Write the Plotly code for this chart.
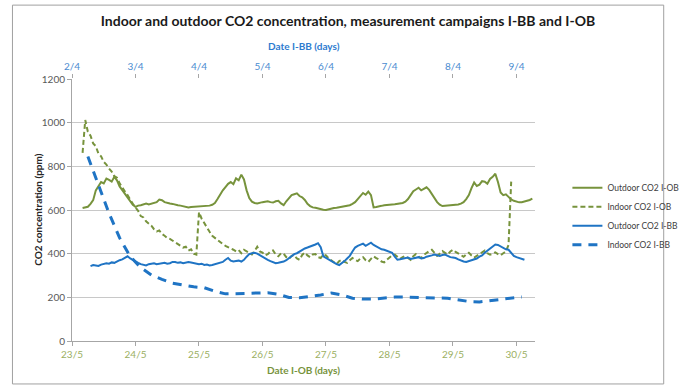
import pandas as pd
import plotly.graph_objects as go

# ---- data (ppm), hourly / 4-hourly readings from each series' first sample ----
ob_campaign_start = "2012-05-23"
bb_campaign_start = "2012-04-02"

# Outdoor CO2, I-OB campaign: hourly from 23/5 04:00
outdoor_ob_start = "2012-05-23 04:00"
outdoor_ob = [
    609, 612, 615, 628, 645, 690, 712, 728, 722, 744,
    738, 730, 752, 736, 708, 690, 672, 655, 640, 624,
    614, 620, 622, 627, 630, 625, 628, 634, 636, 648,
    645, 636, 632, 630, 628, 624, 622, 620, 618, 615,
    612, 614, 615, 614, 616, 615, 617, 618, 620, 624,
    632, 650, 672, 690, 705, 720, 728, 718, 745, 736,
    762, 740, 690, 655, 638, 632, 630, 634, 636, 638,
    640, 636, 634, 640, 642, 630, 622, 640, 656, 668,
    672, 676, 664, 658, 646, 628, 618, 612, 610, 606,
    603, 601, 600, 604, 607, 609, 610, 612, 613, 616,
    618, 622, 628, 636, 650, 666, 678, 670, 684, 668,
    612, 614, 615, 619, 622, 622, 624, 625, 626, 627,
    628, 632, 638, 650, 668, 686, 694, 702, 690, 698,
    704, 692, 674, 652, 636, 624, 618, 619, 620, 621,
    622, 623, 625, 629, 636, 650, 668, 700, 726, 710,
    716, 732, 730, 720, 742, 752, 766, 728, 680, 668,
    672, 660, 648, 642, 638, 635, 636, 639, 642, 646,
    652,
]

# Indoor CO2, I-OB campaign: hourly from 23/5 04:00
indoor_ob_start = "2012-05-23 04:00"
indoor_ob = [
    862, 1012, 958, 940, 905, 892, 858, 846, 820, 808,
    790, 776, 755, 748, 722, 700, 684, 668, 645, 628,
    612, 596, 572, 566, 548, 540, 528, 512, 502, 506,
    490, 482, 472, 468, 460, 452, 446, 438, 428, 432,
    414, 420, 400, 396, 590, 560, 538, 515, 500, 482,
    472, 460, 452, 444, 436, 428, 424, 418, 410, 416,
    402, 418, 410, 400, 396, 412, 432, 410, 405, 392,
    398, 410, 415, 396, 388, 402, 400, 384, 376, 390,
    392, 378, 372, 394, 405, 392, 384, 396, 398, 384,
    380, 396, 392, 378, 370, 360, 352, 366, 372, 362,
    358, 370, 380, 372, 366, 378, 384, 370, 362, 376,
    388, 380, 374, 364, 360, 372, 384, 392, 396, 384,
    376, 384, 390, 380, 372, 388, 398, 386, 380, 394,
    405, 412, 418, 402, 390, 400, 412, 404, 396, 410,
    418, 408, 400, 392, 386, 396, 404, 392, 382, 390,
    398, 408, 414, 402, 395, 400, 406, 398, 392, 402,
    410, 440, 730,
]

# Outdoor CO2, I-BB campaign: hourly from 2/4 07:00
outdoor_bb_start = "2012-04-02 07:00"
outdoor_bb = [
    343, 348, 346, 344, 350, 352, 356, 354, 360, 358,
    366, 370, 374, 382, 388, 378, 370, 366, 358, 352,
    348, 346, 352, 355, 356, 352, 354, 358, 358, 354,
    356, 362, 362, 358, 360, 356, 358, 362, 360, 357,
    356, 352, 354, 348, 350, 346, 348, 352, 356, 360,
    362, 372, 380, 368, 364, 366, 368, 364, 372, 386,
    398, 402, 404, 400, 392, 386, 378, 372, 366, 360,
    356, 358, 360, 364, 370, 380, 392, 398, 402, 410,
    418, 424, 428, 432, 436, 442, 448, 430, 388, 380,
    372, 366, 358, 352, 348, 356, 366, 378, 390, 410,
    428, 436, 442, 446, 436, 444, 450, 440, 432, 426,
    420, 418, 414, 408, 404, 386, 372, 374, 376, 380,
    382, 376, 378, 382, 384, 378, 380, 386, 388, 392,
    396, 392, 390, 394, 396, 390, 384, 382, 380, 374,
    368, 364, 362, 366, 370, 374, 378, 386, 392, 404,
    414, 426, 436, 442, 440, 432, 426, 420, 418, 404,
    390, 384, 380, 376, 372,
]

# Indoor CO2, I-BB campaign: every 4 h from 2/4 06:00
indoor_bb_start = "2012-04-02 06:00"
indoor_bb = [
    845, 710, 585, 472, 387, 336, 302, 282, 265, 256,
    248, 244, 228, 216, 216, 218, 220, 221, 214, 199,
    198, 203, 211, 220, 211, 196, 192, 192, 196, 201,
    201, 199, 196, 197, 196, 188, 181, 179, 185, 193,
    198, 202,
]

y_ticks = [0, 200, 400, 600, 800, 1000, 1200]

GREEN = "#77933C"
BLUE = "#1F74C4"
FONT = "Lato, Noto Sans, sans-serif"


def times(start, n, freq):
    return pd.date_range(start=start, periods=n, freq=freq)


fig = go.Figure()

fig.add_trace(go.Scatter(
    x=times(outdoor_ob_start, len(outdoor_ob), "1h"), y=outdoor_ob,
    name="Outdoor CO2 I-OB", mode="lines", xaxis="x", yaxis="y",
    line=dict(color=GREEN, width=2),
))
fig.add_trace(go.Scatter(
    x=times(indoor_ob_start, len(indoor_ob), "1h"), y=indoor_ob,
    name="Indoor CO2 I-OB", mode="lines", xaxis="x", yaxis="y",
    line=dict(color=GREEN, width=2, dash="5px,3px"),
))
fig.add_trace(go.Scatter(
    x=times(outdoor_bb_start, len(outdoor_bb), "1h"), y=outdoor_bb,
    name="Outdoor CO2 I-BB", mode="lines", xaxis="x2", yaxis="y",
    line=dict(color=BLUE, width=2),
))
fig.add_trace(go.Scatter(
    x=times(indoor_bb_start, len(indoor_bb), "4h"), y=indoor_bb,
    name="Indoor CO2 I-BB", mode="lines", xaxis="x2", yaxis="y",
    line=dict(color=BLUE, width=3, dash="9px,7px"),
))

tick_font = dict(family=FONT, size=10)

fig.update_layout(
    width=696, height=387,
    margin=dict(l=72, r=142, t=79, b=46),
    paper_bgcolor="white", plot_bgcolor="white",
    font=dict(family=FONT, size=10, color="#404040"),
    title=dict(
        text="<b>Indoor and outdoor CO2 concentration, measurement campaigns I-BB and I-OB</b>",
        x=0.5, xanchor="center", y=0.945, yanchor="middle",
        font=dict(family=FONT, size=14, color="#1a1a1a"),
    ),
    xaxis=dict(
        type="date",
        range=["2012-05-23 00:00", "2012-05-30 07:00"],
        dtick=86400000, tick0=ob_campaign_start, tickformat="%-d/%-m",
        showgrid=False, showline=True, linecolor="#A6A6A6", linewidth=1,
        ticks="outside", ticklen=4, tickcolor="#A6A6A6",
        tickfont=dict(tick_font, color="#9BAF5F"),
        zeroline=False,
    ),
    xaxis2=dict(
        type="date", overlaying="x", side="top",
        range=["2012-04-02 00:00", "2012-04-09 07:00"],
        dtick=86400000, tick0=bb_campaign_start, tickformat="%-d/%-m",
        showgrid=False, showline=False,
        ticks="outside", ticklen=4, tickcolor="#A6A6A6",
        tickfont=dict(tick_font, color="#4A8BD0"),
        zeroline=False,
    ),
    yaxis=dict(
        range=[0, 1200], tickvals=y_ticks,
        showgrid=True, gridcolor="#C8C8C8", gridwidth=1,
        showline=True, linecolor="#A6A6A6", linewidth=1,
        ticks="outside", ticklen=4, tickcolor="#A6A6A6",
        tickfont=dict(tick_font, color="#595959"),
        zeroline=False,
    ),
    legend=dict(
        x=1.07, y=0.64, xanchor="left", yanchor="top",
        font=dict(family=FONT, size=8.5, color="#404040"),
        bgcolor="rgba(0,0,0,0)", tracegroupgap=0, itemwidth=30,
        borderwidth=0,
    ),
    showlegend=True,
)

# Axis titles
fig.add_annotation(
    text="<b>Date I-BB (days)</b>", xref="paper", yref="paper",
    x=0.5, y=1.125, xanchor="center", yanchor="middle", showarrow=False,
    font=dict(family=FONT, size=10, color="#2E7BCF"),
)
fig.add_annotation(
    text="<b>Date I-OB (days)</b>", xref="paper", yref="paper",
    x=0.5, y=-0.112, xanchor="center", yanchor="middle", showarrow=False,
    font=dict(family=FONT, size=10, color="#77933C"),
)
fig.add_annotation(
    text="<b>CO2 concentration (ppm)</b>", xref="paper", yref="paper",
    x=-0.074, y=0.5, xanchor="center", yanchor="middle", showarrow=False,
    textangle=-90,
    font=dict(family=FONT, size=10, color="#262626"),
)

# Chart border
fig.add_shape(
    type="rect", xref="paper", yref="paper",
    x0=-0.1286, x1=1.278, y0=-0.164, y1=1.282,
    line=dict(color="#A0A0A0", width=1), fillcolor="rgba(0,0,0,0)", layer="below",
)

fig.write_html("out.html")
